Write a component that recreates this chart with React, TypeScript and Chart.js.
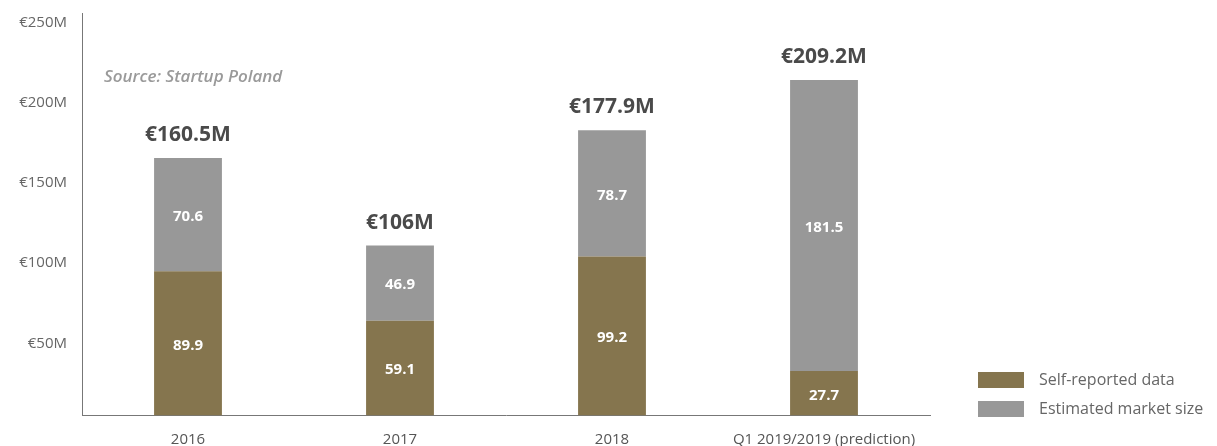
import React, { useEffect, useRef } from "react";
import { Chart, registerables } from "chart.js";

Chart.register(...registerables);

const categories = ["2016", "2017", "2018", "Q1 2019/2019 (prediction)"];
const selfReported = [89.9, 59.1, 99.2, 27.7];
const estimated = [70.6, 46.9, 78.7, 181.5];
const yTicks = [50, 100, 150, 200, 250];
const seriesNames = ["Self-reported data", "Estimated market size"];
const seriesColors = ["#85754e", "#989898"];
const sourceText = "Source: Startup Poland";

const FONT = "'Open Sans', sans-serif";

const fmt = (v: number) => String(parseFloat(v.toFixed(1)));

const labelsPlugin = {
  id: "customLabels",
  afterDatasetsDraw(chart: any) {
    const ctx = chart.ctx;
    ctx.save();
    // inside labels
    chart.data.datasets.forEach((ds: any, di: number) => {
      const meta = chart.getDatasetMeta(di);
      meta.data.forEach((el: any, i: number) => {
        const { y, base, x } = el.getProps(["x", "y", "base"], true);
        ctx.fillStyle = "#ffffff";
        ctx.font = `bold 15px ${FONT}`;
        ctx.textAlign = "center";
        ctx.textBaseline = "middle";
        ctx.fillText(fmt(ds.data[i]), x, (y + base) / 2 + 2);
      });
    });
    // totals
    const topMeta = chart.getDatasetMeta(chart.data.datasets.length - 1);
    topMeta.data.forEach((el: any, i: number) => {
      const { x, y } = el.getProps(["x", "y"], true);
      const total = chart.data.datasets.reduce((s: number, d: any) => s + d.data[i], 0);
      ctx.fillStyle = "#4a4a4a";
      ctx.font = `bold 21px ${FONT}`;
      ctx.textAlign = "center";
      ctx.textBaseline = "middle";
      ctx.fillText(`€${fmt(total)}M`, x, y - 23);
    });
    // source
    ctx.fillStyle = "#9a9a9a";
    ctx.font = `italic 600 17px ${FONT}`;
    ctx.textAlign = "left";
    ctx.textBaseline = "middle";
    ctx.fillText(sourceText, 104, 77);
    // legend
    chart.data.datasets.forEach((ds: any, di: number) => {
      const top = 372 + di * 29;
      ctx.fillStyle = ds.backgroundColor;
      ctx.fillRect(978, top, 46, 16);
      ctx.fillStyle = "#666666";
      ctx.font = `16px ${FONT}`;
      ctx.textAlign = "left";
      ctx.textBaseline = "middle";
      ctx.fillText(ds.label, 1039, top + 8);
    });
    ctx.restore();
  },
};

export default function App() {
  const ref = useRef<HTMLCanvasElement | null>(null);
  useEffect(() => {
    if (!ref.current) return;
    const chart = new Chart(ref.current, {
      type: "bar",
      data: {
        labels: categories,
        datasets: [
          {
            label: seriesNames[0],
            data: selfReported,
            backgroundColor: seriesColors[0],
            barPercentage: 0.32,
            categoryPercentage: 1,
          },
          {
            label: seriesNames[1],
            data: estimated,
            backgroundColor: seriesColors[1],
            barPercentage: 0.32,
            categoryPercentage: 1,
          },
        ],
      },
      options: {
        animation: false,
        responsive: false,
        layout: { padding: { top: 13, right: 287, bottom: 0, left: 0 } },
        plugins: {
          legend: { display: false },
          tooltip: { enabled: false },
        },
        scales: {
          x: {
            stacked: true,
            grid: { display: false, drawTicks: false },
            border: { display: true, color: "#777777", width: 1 },
            ticks: { color: "#555555", font: { family: FONT, size: 15 }, padding: 15, maxRotation: 0 },
            afterFit: (scale: any) => {
              scale.height = 30.5;
              scale.paddingLeft = 0;
              scale.paddingRight = 0;
            },
          },
          y: {
            stacked: true,
            min: 0,
            max: 251,
            grid: { display: false, drawTicks: false },
            border: { display: true, color: "#777777", width: 1 },
            afterBuildTicks: (scale: any) => {
              scale.ticks = yTicks.map((v) => ({ value: v }));
            },
            afterFit: (scale: any) => {
              scale.width = 82;
              scale.paddingTop = 0;
              scale.paddingBottom = 0;
            },
            ticks: {
              color: "#666666",
              font: { family: FONT, size: 15 },
              padding: 15,
              labelOffset: 8,
              callback: (v: any) => `€${v}M`,
            },
          },
        },
      },
      plugins: [labelsPlugin],
    });
    return () => chart.destroy();
  }, []);
  return (
    <div style={{ position: "absolute", left: 0, top: 0, width: 1217, height: 446 }}>
      <canvas ref={ref} width={1217} height={446} style={{ display: "block" }} />
    </div>
  );
}
